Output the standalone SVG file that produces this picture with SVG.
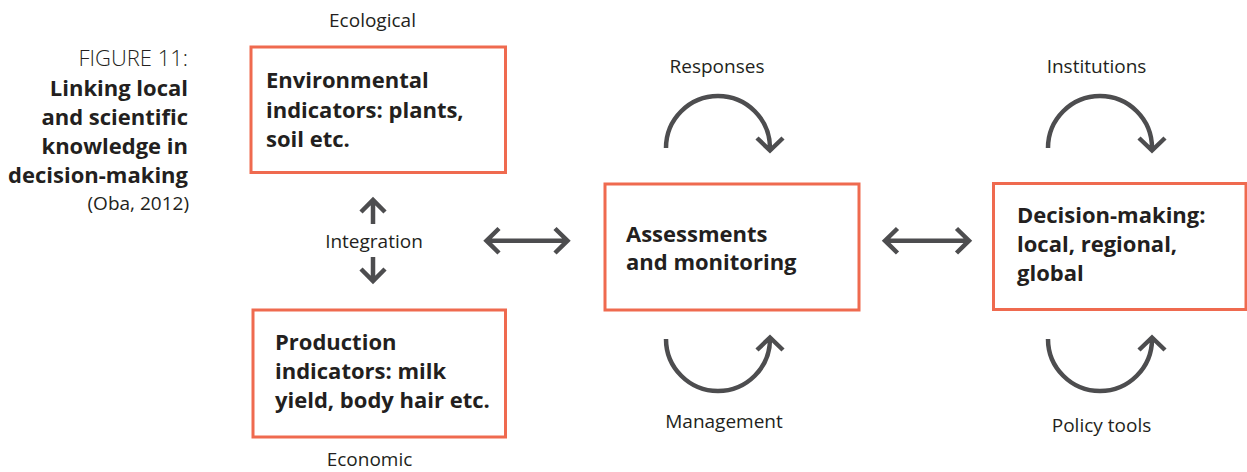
<svg xmlns="http://www.w3.org/2000/svg" width="1247" height="472" viewBox="0 0 1247 472">
<style>
.box{fill:#fff;stroke:#EF6A4F;stroke-width:3}
.bt{font-family:"Open Sans","Liberation Sans",sans-serif;font-weight:700;font-size:22px;fill:#231F20}
.lb{font-family:"Open Sans","Liberation Sans",sans-serif;font-weight:400;font-size:19px;fill:#231F20}
.cap{font-family:"Open Sans","Liberation Sans",sans-serif;font-size:22px;fill:#231F20;text-anchor:end}
.ar{fill:none;stroke:#4D4D4F;stroke-width:4.5;stroke-linecap:butt;stroke-linejoin:miter}
</style>
<rect width="1247" height="472" fill="#fff"/>
<g id="caption">
<text class="cap" x="188" y="66" font-weight="300">FIGURE 11:</text>
<text class="cap" x="188" y="95.5" font-weight="700">Linking local</text>
<text class="cap" x="188" y="124.5" font-weight="700">and scientific</text>
<text class="cap" x="188" y="153.5" font-weight="700">knowledge in</text>
<text class="cap" x="188" y="182.5" font-weight="700">decision-making</text>
<text class="lb" x="189" y="210" text-anchor="end">(Oba, 2012)</text>
</g>
<g id="environmental">
<rect class="box" x="251" y="47" width="254.5" height="125.5"/>
<text class="bt" x="266" y="88">Environmental</text>
<text class="bt" x="266" y="117.5">indicators: plants,</text>
<text class="bt" x="266" y="146.5">soil etc.</text>
</g>
<g id="production">
<rect class="box" x="253" y="310" width="252.5" height="127"/>
<text class="bt" x="275" y="350">Production</text>
<text class="bt" x="275" y="379">indicators: milk</text>
<text class="bt" x="275" y="408">yield, body hair etc.</text>
</g>
<g id="assessments">
<rect class="box" x="605" y="184" width="254" height="126"/>
<text class="bt" x="626" y="241.5">Assessments</text>
<text class="bt" x="626" y="270">and monitoring</text>
</g>
<g id="decision">
<rect class="box" x="993.5" y="183.5" width="252.5" height="126"/>
<text class="bt" x="1017" y="223">Decision-making:</text>
<text class="bt" x="1017" y="252">local, regional,</text>
<text class="bt" x="1017" y="281">global</text>
</g>
<g id="labels">
<text class="lb" x="372.5" y="26.5" text-anchor="middle">Ecological</text>
<text class="lb" x="374" y="248" text-anchor="middle">Integration</text>
<text class="lb" x="369.5" y="466" text-anchor="middle">Economic</text>
<text class="lb" x="717" y="73" text-anchor="middle">Responses</text>
<text class="lb" x="724" y="427.5" text-anchor="middle">Management</text>
<text class="lb" x="1096.5" y="73" text-anchor="middle">Institutions</text>
<text class="lb" x="1101.5" y="431.5" text-anchor="middle">Policy tools</text>
</g>
<g id="connectors">
<path class="ar" d="M373,224 L373,201 M361,212 L373,200 L385,212"/>
<path class="ar" d="M373,257 L373,280 M361,269 L373,281 L385,269"/>
<path class="ar" d="M487,240.7 L567,240.7 M499,228.5 L486.5,240.7 L499,253 M555,228.5 L567.5,240.7 L555,253" stroke-width="5"/>
<path class="ar" d="M885,240.7 L969,240.7 M897.5,228.5 L885,240.7 L897.5,253 M956.5,228.5 L969,240.7 L956.5,253" stroke-width="5"/>
<path class="ar" d="M666,148 A52,52 0 0 1 770,148 M757,138 L770,150.5 L783,138"/>
<path class="ar" d="M666,339 A52,52 0 0 0 770,339 M757,350 L770,337.5 L783,350"/>
<path class="ar" d="M1048,148 A52,52 0 0 1 1152,148 M1139,138 L1152,150.5 L1165,138"/>
<path class="ar" d="M1048,339 A52,52 0 0 0 1152,339 M1139,350 L1152,337.5 L1165,350"/>
</g>
</svg>
